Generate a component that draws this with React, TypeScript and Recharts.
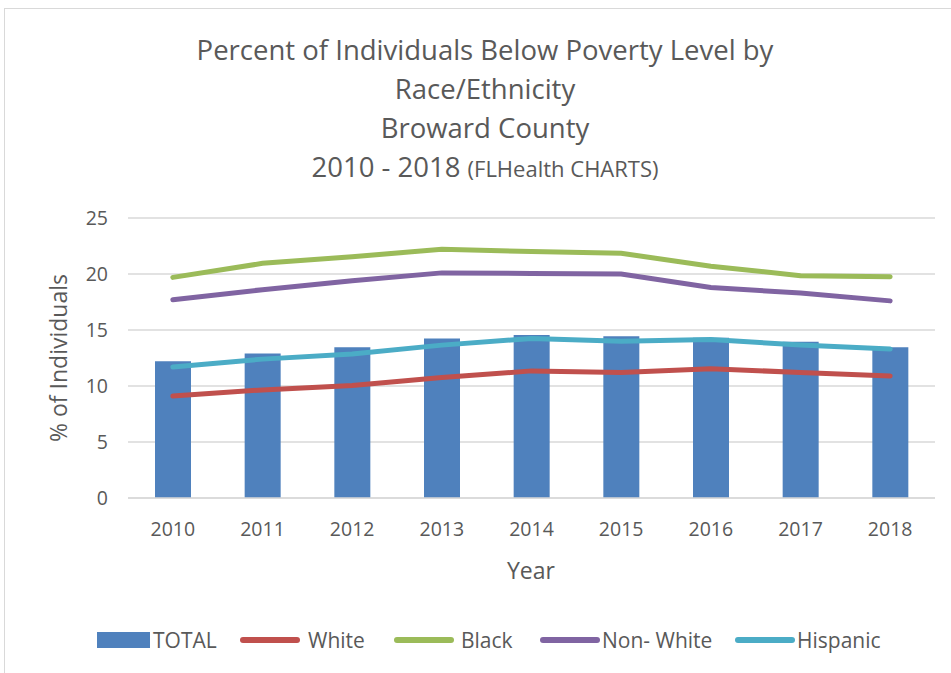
import React from 'react'
import { ComposedChart, Bar, Line, XAxis, YAxis, CartesianGrid } from 'recharts'

const years = ['2010', '2011', '2012', '2013', '2014', '2015', '2016', '2017', '2018']
const total = [12.2, 12.9, 13.45, 14.25, 14.55, 14.45, 14.3, 13.95, 13.45]
const white = [9.1, 9.65, 10.05, 10.75, 11.35, 11.2, 11.55, 11.2, 10.9]
const black = [19.7, 20.95, 21.55, 22.2, 22.0, 21.85, 20.7, 19.85, 19.75]
const nonWhite = [17.7, 18.6, 19.4, 20.1, 20.05, 20.0, 18.8, 18.3, 17.6]
const hispanic = [11.7, 12.4, 12.85, 13.65, 14.25, 14.0, 14.15, 13.65, 13.3]
const yTicks = [0, 5, 10, 15, 20, 25]

const lineSeries = [
  { key: 'white', name: 'White', color: '#C0504D' },
  { key: 'black', name: 'Black', color: '#9BBB59' },
  { key: 'nonWhite', name: 'Non- White', color: '#8064A2' },
  { key: 'hispanic', name: 'Hispanic', color: '#4BACC6' },
]

// legend swatch left edges and gap between swatch and text
const legendLeft = [240, 394, 540, 735]
const legendGap = [8, 7, 2, 2]

const data = years.map((year, i) => ({
  year,
  total: total[i],
  white: white[i],
  black: black[i],
  nonWhite: nonWhite[i],
  hispanic: hispanic[i],
}))

const FONT = '"Open Sans", "Liberation Sans", sans-serif'
const TEXT = '#595959'

export default function App() {
  return (
    <div style={{ position: 'absolute', left: 0, top: 0, width: 951, height: 673, background: '#fff', fontFamily: FONT, color: TEXT, overflow: 'hidden' }}>
      {/* chart frame */}
      <div style={{ position: 'absolute', left: 4, top: 8, width: 960, height: 680, borderLeft: '1px solid #d9d9d9', borderTop: '1px solid #d9d9d9' }} />

      <div style={{ position: 'absolute', left: 0, width: 970, top: 30, textAlign: 'center', fontSize: 27.5, lineHeight: '39px' }}>
        <div>Percent of Individuals Below Poverty Level by</div>
        <div>Race/Ethnicity</div>
        <div>Broward County</div>
        <div>2010 - 2018 <span style={{ fontSize: 22 }}>(FLHealth CHARTS)</span></div>
      </div>

      <div style={{ position: 'absolute', left: 0, top: 0 }}>
        <ComposedChart
          width={951}
          height={673}
          data={data}
          margin={{ top: 218, right: 16, left: 48, bottom: 0 }}
        >
          <CartesianGrid stroke="#d9d9d9" strokeWidth={1.5} vertical={false} />
          <XAxis
            dataKey="year"
            height={175}
            axisLine={{ stroke: '#d9d9d9', strokeWidth: 1.5 }}
            tickLine={false}
            tickSize={0}
            tickMargin={24}
            tick={{ fill: TEXT, fontSize: 19.5, fontFamily: FONT }}
            interval={0}
          />
          <YAxis
            width={80}
            domain={[0, 25]}
            ticks={yTicks}
            axisLine={false}
            tickLine={false}
            tickSize={0}
            tickMargin={20}
            tick={{ fill: TEXT, fontSize: 19.5, fontFamily: FONT }}
          />
          <Bar dataKey="total" name="TOTAL" fill="#4F81BD" barSize={36} isAnimationActive={false} />
          {lineSeries.map((s) => (
            <Line
              key={s.key}
              type="linear"
              dataKey={s.key}
              name={s.name}
              stroke={s.color}
              strokeWidth={5}
              strokeLinecap="round"
              dot={false}
              isAnimationActive={false}
            />
          ))}
        </ComposedChart>
      </div>

      <div style={{ position: 'absolute', left: 58, top: 358, transform: 'translate(-50%, -50%) rotate(-90deg)', fontSize: 23, whiteSpace: 'nowrap' }}>
        % of Individuals
      </div>
      <div style={{ position: 'absolute', left: 531, top: 570, transform: 'translate(-50%, -50%)', fontSize: 23 }}>
        Year
      </div>

      {/* legend */}
      <div style={{ position: 'absolute', left: 97, top: 626, display: 'flex', alignItems: 'center', fontSize: 21, height: 28 }}>
        <span style={{ display: 'inline-block', width: 53, height: 16, background: '#4F81BD', marginRight: 3 }} />
        <span>TOTAL</span>
      </div>
      {lineSeries.map((s, i) => (
        <div key={s.key} style={{ position: 'absolute', left: legendLeft[i], top: 626, display: 'flex', alignItems: 'center', fontSize: 21, height: 28 }}>
          <span style={{ display: 'inline-block', width: 60, height: 6, borderRadius: 3, background: s.color, marginRight: legendGap[i] }} />
          <span>{s.name}</span>
        </div>
      ))}
    </div>
  )
}
